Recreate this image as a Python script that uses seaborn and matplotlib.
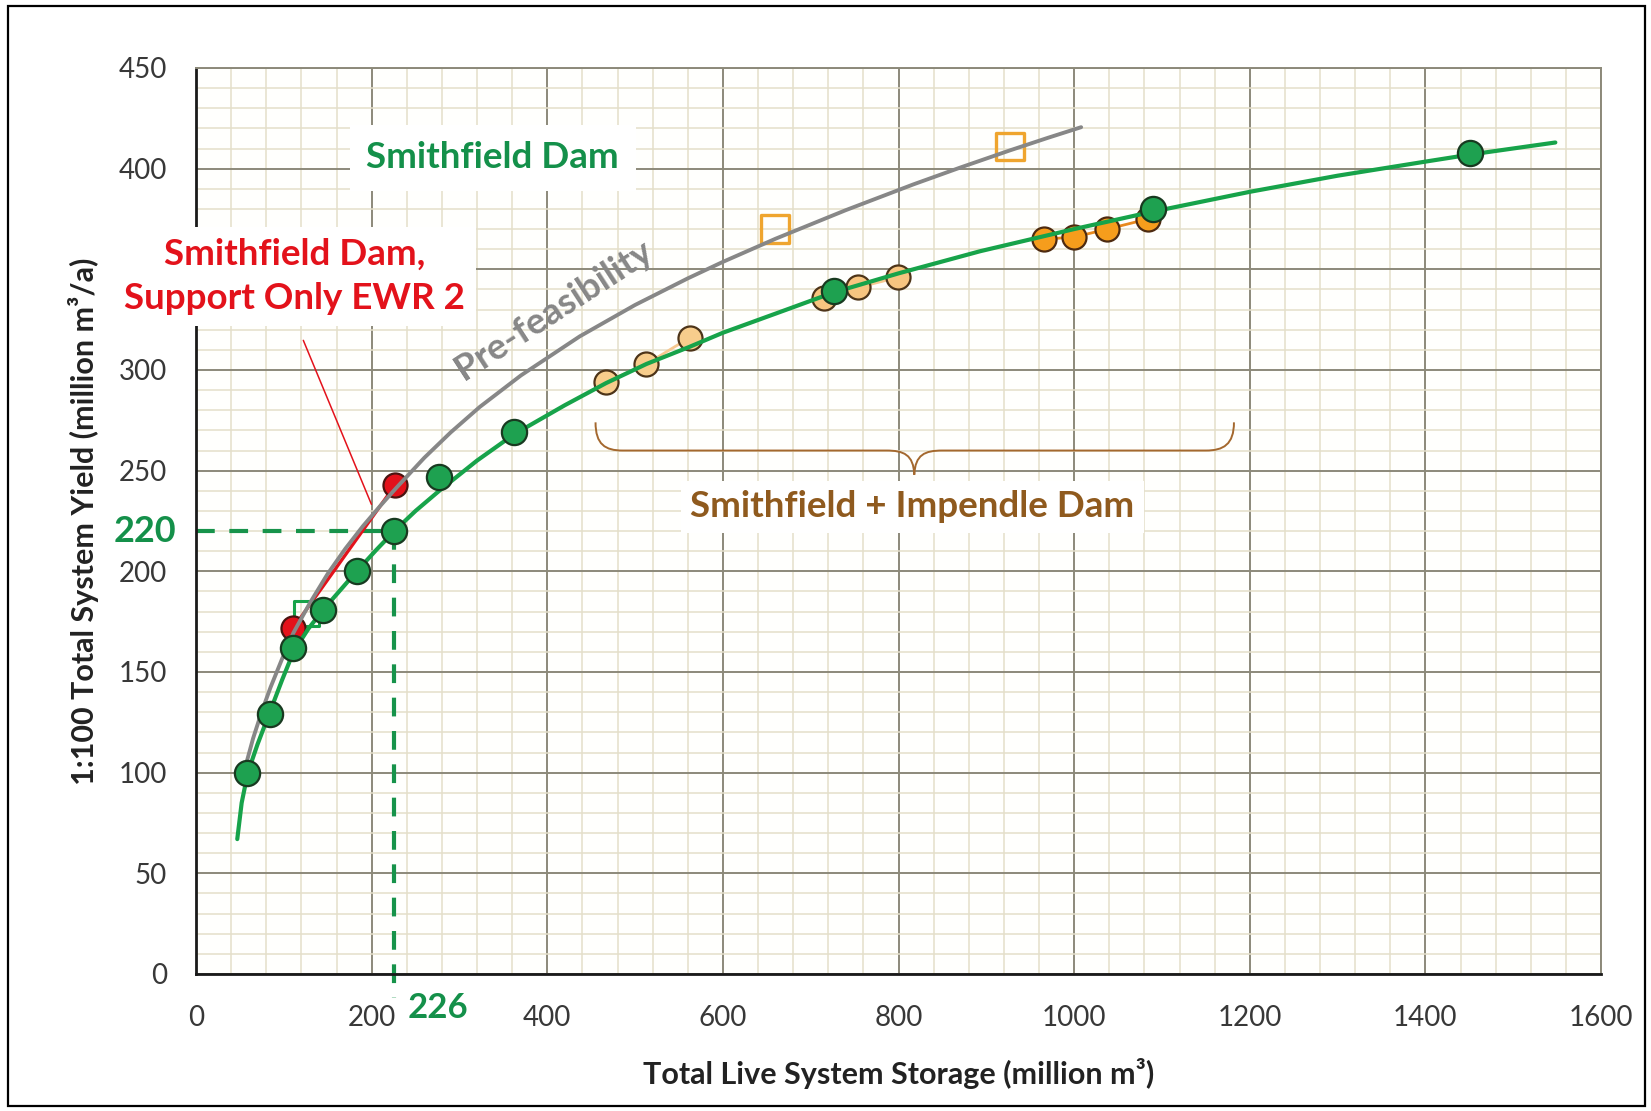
import matplotlib
matplotlib.use("Agg")
import matplotlib.pyplot as plt
import seaborn as sns
from matplotlib.path import Path
from matplotlib.patches import PathPatch, Rectangle
from matplotlib.ticker import MultipleLocator

# Smithfield Dam alone: live storage (million m3) vs 1:100 yield (million m3/a)
smithfield_storage = [58, 84, 111, 145, 183, 226, 277, 362, 726, 1090, 1451]
smithfield_yield = [100, 129, 162, 181, 200, 220, 247, 269, 339, 380, 408]

# Curve through the Smithfield Dam results
smithfield_curve_storage = [47, 52, 59, 70, 84, 98, 111, 128, 145, 165, 183, 205, 227,
                            250, 277, 320, 362, 420, 467, 513, 562, 600, 660, 726, 800,
                            893, 1000, 1088, 1200, 1300, 1400, 1451, 1548]
smithfield_curve_yield = [67, 85, 100, 114, 130, 146, 160, 171.5, 181, 191, 200, 210.5, 220.5,
                          230, 240, 255, 268, 282.5, 293.5, 303, 311.5, 318.5, 328, 338.5, 348,
                          359, 370, 378.5, 388.5, 396.5, 403.5, 407, 413]

# Pre-feasibility curve
prefeas_storage = [55, 65, 75, 85, 98, 111, 130, 150, 170, 190, 210, 228, 260, 290, 323,
                   370, 437, 500, 560, 600, 660, 740, 817, 870, 927, 970, 1008]
prefeas_yield = [101, 117, 130.5, 142.5, 156.5, 169.5, 184.5, 198.8, 211.2, 222.4, 232.6,
                 241.4, 256.4, 269, 281.6, 297.3, 316.7, 332.3, 345.5, 353.7, 365.2, 379.4,
                 392.2, 400.5, 409.1, 415.3, 420.6]

# Pre-feasibility results (hollow squares)
prefeas_pts_storage = [659, 927]
prefeas_pts_yield = [370, 411]
prefeas_small_storage = [126]
prefeas_small_yield = [179]

# Smithfield Dam supporting only EWR 2
ewr2_storage = [111, 227]
ewr2_yield = [172, 243]

# Smithfield + Impendle Dam combinations
impendle_a_storage = [467, 513, 562]
impendle_a_yield = [294, 303, 316]
impendle_b_storage = [715, 754, 799]
impendle_b_yield = [336, 341, 346]
impendle_c_storage = [966, 1000, 1038, 1084]
impendle_c_yield = [365, 366, 370, 375]

# Required storage for the target yield
target_yield = 220
required_storage = 226

x_ticks = [0, 200, 400, 600, 800, 1000, 1200, 1400, 1600]
y_ticks = [0, 50, 100, 150, 200, 250, 300, 350, 400, 450]
y_tick_labels = ["0", "50", "100", "150", "200", "250", "300", "", "400", "450"]

GREEN = "#17a34a"
GREEN_PT = "#1ea150"
GREEN_TXT = "#14904a"
RED = "#e3121b"
GRAY = "#878787"
BROWN = "#8f5a1e"
MINOR = "#e4dfca"
MAJOR = "#8c897a"
ANN_SIZE = 26.5

sns.set_theme(style="white")
plt.rcParams["font.family"] = ["Lato", "DejaVu Sans"]

fig = plt.figure(figsize=(16.51, 11.11), dpi=100)
W, H = 1651, 1111
ax = fig.add_axes([196 / W, 1 - 974 / H, (1601 - 196) / W, (974 - 68) / H])
ax.set_facecolor("#fffffd")

# figure frame
fig.add_artist(Rectangle((8 / W, 5 / H), 1637 / W, 1100 / H, transform=fig.transFigure,
                         fill=False, edgecolor="black", linewidth=1.6))

ax.set_xlim(0, 1600)
ax.set_ylim(0, 450)
ax.xaxis.set_minor_locator(MultipleLocator(40))
ax.yaxis.set_minor_locator(MultipleLocator(10))
ax.set_xticks(x_ticks)
ax.set_yticks(y_ticks, y_tick_labels)
ax.grid(which="minor", color=MINOR, linewidth=1.1, zorder=0)
ax.grid(which="major", color=MAJOR, linewidth=1.4, zorder=0)
ax.set_axisbelow(True)

for side in ["top", "right"]:
    ax.spines[side].set_color(MAJOR)
    ax.spines[side].set_linewidth(1.4)
for side in ["left", "bottom"]:
    ax.spines[side].set_color("#1a1a1a")
    ax.spines[side].set_linewidth(2.0)
ax.tick_params(which="major", direction="out", length=8, width=1.6, color="#1a1a1a",
               labelsize=20, labelcolor="#383838")
ax.tick_params(which="minor", length=0)
ax.tick_params(axis="y", pad=13)
ax.tick_params(axis="x", pad=14)

ax.set_xlabel("Total Live System Storage (million m³)", fontsize=22, fontweight="bold",
              color="#222222", labelpad=20)
ax.set_ylabel("1:100 Total System Yield (million m³/a)", fontsize=22, fontweight="bold",
              color="#222222", labelpad=14)

# curves
sns.lineplot(x=ewr2_storage, y=ewr2_yield, ax=ax, color=RED, linewidth=2.4,
             sort=False, estimator=None, zorder=3)
sns.lineplot(x=prefeas_storage, y=prefeas_yield, ax=ax, color=GRAY, linewidth=2.8,
             sort=False, estimator=None, zorder=4)
sns.lineplot(x=impendle_a_storage, y=impendle_a_yield, ax=ax, color="#f6c890", linewidth=2,
             sort=False, estimator=None, zorder=3)
sns.lineplot(x=impendle_b_storage, y=impendle_b_yield, ax=ax, color="#f6c890", linewidth=2,
             sort=False, estimator=None, zorder=3)
sns.lineplot(x=impendle_c_storage, y=impendle_c_yield, ax=ax, color="#e8891e", linewidth=2,
             sort=False, estimator=None, zorder=3)

# points
sns.scatterplot(x=prefeas_small_storage, y=prefeas_small_yield, ax=ax, marker="s", s=330,
                facecolor="none", edgecolor=GREEN, linewidth=2.2, zorder=3)
sns.scatterplot(x=prefeas_pts_storage, y=prefeas_pts_yield, ax=ax, marker="s", s=400,
                facecolor="none", edgecolor="#efa52f", linewidth=2.4, zorder=3)
sns.scatterplot(x=ewr2_storage, y=ewr2_yield, ax=ax, s=300, color=RED,
                edgecolor="#4a1410", linewidth=1.6, zorder=3.5)
sns.scatterplot(x=impendle_a_storage, y=impendle_a_yield, ax=ax, s=300, color="#f7cd8c",
                edgecolor="#4d3418", linewidth=1.6, zorder=3.5)
sns.scatterplot(x=impendle_b_storage, y=impendle_b_yield, ax=ax, s=300, color="#f7c580",
                edgecolor="#4d3418", linewidth=1.6, zorder=3.5)
sns.scatterplot(x=impendle_c_storage, y=impendle_c_yield, ax=ax, s=300, color="#f69d1c",
                edgecolor="#4d2a10", linewidth=1.6, zorder=3.5)

sns.lineplot(x=smithfield_curve_storage, y=smithfield_curve_yield, ax=ax, color=GREEN,
             linewidth=3.0, sort=False, estimator=None, zorder=4.5)
sns.scatterplot(x=smithfield_storage, y=smithfield_yield, ax=ax, s=330, color=GREEN_PT,
                edgecolor="#183a20", linewidth=1.6, zorder=6)

# target yield / required storage guides
ax.plot([0, required_storage], [target_yield, target_yield], color="#17934a", linewidth=3,
        dashes=(4.5, 3.5), zorder=2.5)
ax.plot([required_storage, required_storage], [target_yield, -12], color="#17934a",
        linewidth=3, dashes=(4.5, 3.5), zorder=2.5, clip_on=False)
ax.text(-58, target_yield, str(target_yield), color=GREEN_TXT, fontsize=26,
        fontweight="bold", ha="center", va="center")
ax.text(276, -17, str(required_storage), color=GREEN_TXT, fontsize=25,
        fontweight="bold", ha="center", va="center", clip_on=False)

# labels
ax.text(338, 405.5, "Smithfield Dam", color=GREEN_TXT, fontsize=ANN_SIZE, fontweight="bold",
        ha="center", va="center", zorder=7,
        bbox=dict(boxstyle="square,pad=0.45", facecolor="white", edgecolor="none"))
ax.text(112, 346.5, "Smithfield Dam,\nSupport Only EWR 2", color=RED, fontsize=ANN_SIZE,
        fontweight="bold", ha="center", va="center", linespacing=1.4, zorder=7,
        bbox=dict(boxstyle="square,pad=0.3", facecolor="white", edgecolor="none"))
ax.annotate("", xy=(201, 232), xytext=(121, 316),
            arrowprops=dict(arrowstyle="-", color=RED, linewidth=1.1), zorder=7)
ax.text(407, 330, "Pre-feasibility", color=GRAY, fontsize=ANN_SIZE, fontweight="bold",
        ha="center", va="center", rotation=33, rotation_mode="anchor", zorder=7)
ax.text(816, 232, "Smithfield + Impendle Dam", color=BROWN, fontsize=ANN_SIZE,
        fontweight="bold", ha="center", va="center", zorder=7,
        bbox=dict(boxstyle="square,pad=0.25", facecolor="white", edgecolor="none"))

# brace spanning the Smithfield + Impendle results
brace = Path(
    [(455, 274), (455, 263), (466, 260), (486, 260), (786, 260),
     (806, 260), (817, 258), (818, 248), (819, 258), (830, 260), (850, 260),
     (1150, 260), (1170, 260), (1182, 263), (1182, 274)],
    [Path.MOVETO, Path.CURVE4, Path.CURVE4, Path.CURVE4, Path.LINETO,
     Path.CURVE4, Path.CURVE4, Path.CURVE4, Path.CURVE4, Path.CURVE4, Path.CURVE4,
     Path.LINETO, Path.CURVE4, Path.CURVE4, Path.CURVE4])
ax.add_patch(PathPatch(brace, facecolor="none", edgecolor="#a4682e", linewidth=1.4, zorder=5))

fig.savefig("out.png", dpi=100, facecolor="white")
